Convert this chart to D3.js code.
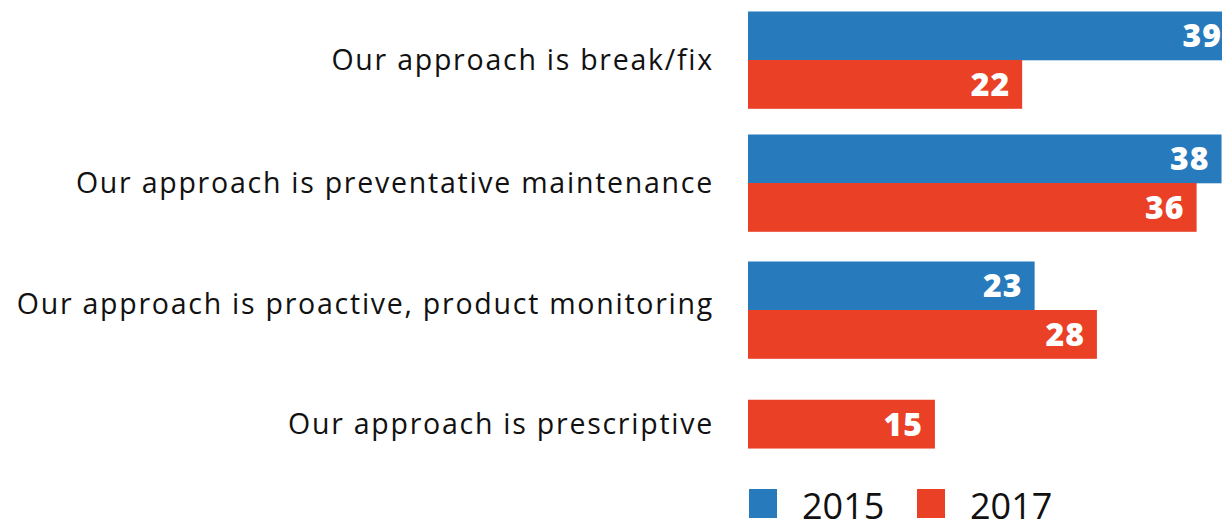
<!DOCTYPE html>
<html>
<head>
<meta charset="utf-8">
<script src="https://cdn.jsdelivr.net/npm/d3@7"></script>
<style>
  body { margin: 0; background: #fff; }
  svg { display: block; }
</style>
</head>
<body>
<div class="chart"></div>
<script>
// data
const categories = [
  'Our approach is break/fix',
  'Our approach is preventative maintenance',
  'Our approach is proactive, product monitoring',
  'Our approach is prescriptive'
];
const years = ['2015', '2017'];
const values2015 = [39, 38, 23, null];
const values2017 = [22, 36, 28, 15];

const colors = { '2015': '#277abb', '2017': '#e94026' };

const width = 1222, height = 520;
const barH = 48.5;

const svg = d3.select('div.chart')
  .append('svg')
  .attr('width', width)
  .attr('height', height);

const x = d3.scaleLinear()
  .domain([0, 39])
  .range([748, 1234]);

// row centres (not evenly spaced in the original)
const y = d3.scaleOrdinal()
  .domain(categories)
  .range([60, 183, 310, 424]);

const rows = categories.map((c, i) => ({
  cat: c,
  bars: [
    { year: '2015', v: values2015[i] },
    { year: '2017', v: values2017[i] }
  ].filter(b => b.v != null)
}));

// category labels
svg.append('g')
  .selectAll('text')
  .data(categories)
  .enter().append('text')
    .attr('x', 714)
    .attr('y', (d, i) => y(d) - (i == 2 ? 6 : 0))
    .attr('dy', '0.36em')
    .attr('text-anchor', 'end')
    .style('font-family', '"Open Sans", sans-serif')
    .style('font-size', '28.5px')
    .style('letter-spacing', '1.75px')
    .style('fill', '#111')
    .text(d => d);

const groups = svg.append('g')
  .selectAll('g')
  .data(rows)
  .enter().append('g')
    .attr('transform', d => `translate(0,${y(d.cat) - d.bars.length * barH / 2})`);

groups.selectAll('rect')
  .data(d => d.bars)
  .enter().append('rect')
    .attr('x', x(0))
    .attr('y', (d, i) => i * barH)
    .attr('width', d => x(d.v) - x(0))
    .attr('height', barH + 0.3)
    .style('fill', d => colors[d.year]);

groups.selectAll('text')
  .data(d => d.bars)
  .enter().append('text')
    .attr('x', d => x(d.v) - 12)
    .attr('y', (d, i) => i * barH + barH / 2)
    .attr('dy', '0.36em')
    .attr('text-anchor', 'end')
    .style('font-family', '"Open Sans", sans-serif')
    .style('font-weight', 800)
    .style('font-size', '32px')
    .style('letter-spacing', '1px')
    .style('fill', '#fff')
    .text(d => d.v);

// legend
const legend = svg.append('g')
  .selectAll('g')
  .data(years)
  .enter().append('g')
    .attr('transform', (d, i) => `translate(${749 + i * 168},489)`);

legend.append('rect')
  .attr('width', 28)
  .attr('height', 29)
  .style('fill', d => colors[d]);

legend.append('text')
  .attr('x', 53)
  .attr('y', 30)
  .style('font-family', '"Open Sans", sans-serif')
  .style('font-size', '36px')
  .style('fill', '#111')
  .text(d => d);
</script>
</body>
</html>
